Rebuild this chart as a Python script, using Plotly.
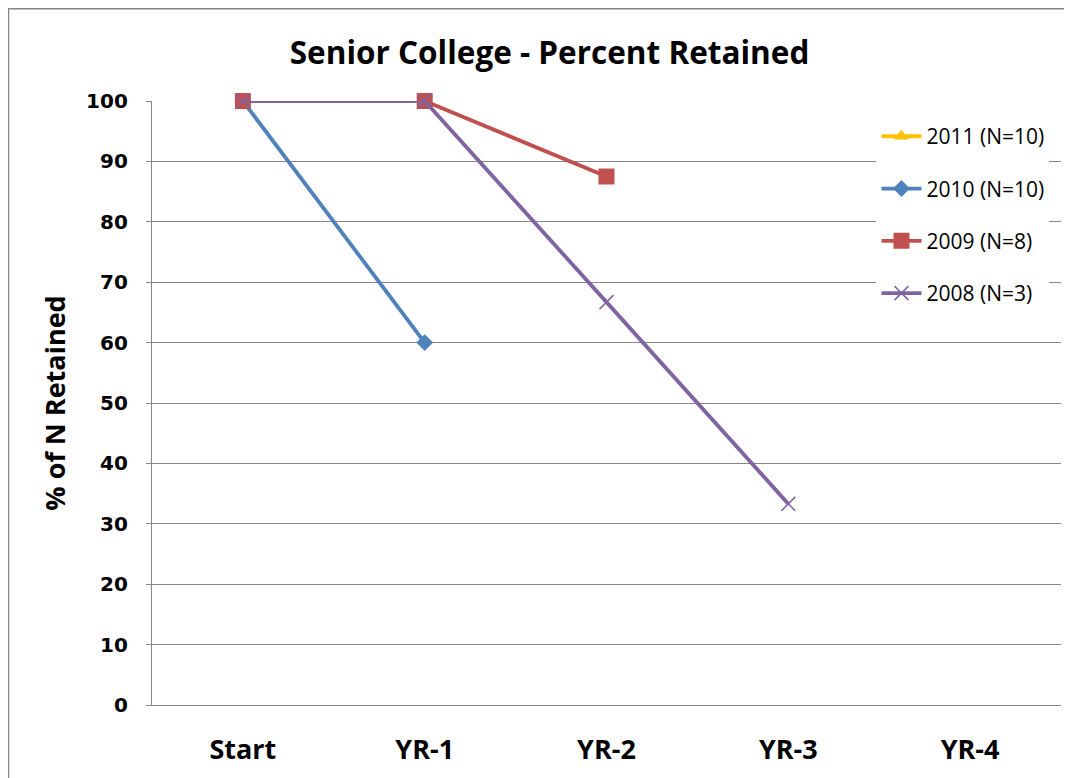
import plotly.graph_objects as go

categories = ["Start", "YR-1", "YR-2", "YR-3", "YR-4"]
series_names = ["2011 (N=10)", "2010 (N=10)", "2009 (N=8)", "2008 (N=3)"]
vals_2011 = [100]
vals_2010 = [100, 60]
vals_2009 = [100, 100, 87.5]
vals_2008 = [100, 100, 66.7, 33.3]
y_ticks = [0, 10, 20, 30, 40, 50, 60, 70, 80, 90, 100]

colors = ["#FFC000", "#4F81BD", "#C0504D", "#8064A2"]
symbols = ["triangle-up", "diamond", "square", "x-thin"]
sizes = [13, 13, 16, 14]
all_vals = [vals_2011, vals_2010, vals_2009, vals_2008]

fig = go.Figure()
for name, vals, c, s, sz in zip(series_names, all_vals, colors, symbols, sizes):
    marker = dict(symbol=s, size=sz, color=c)
    if s == "x-thin":
        marker["line"] = dict(color=c, width=1.5)
    fig.add_trace(go.Scatter(
        x=categories[:len(vals)], y=vals, name=name, mode="lines+markers",
        line=dict(color=c, width=3.8), marker=marker, cliponaxis=False,
        legendgroup=name,
    ))

fig.update_layout(
    width=1064, height=770,
    margin=dict(l=144, r=11, t=93, b=71),
    paper_bgcolor="white", plot_bgcolor="white",
    title=dict(text="<b>Senior College - Percent Retained</b>", x=0.509, xanchor="center",
               y=0.9416, yanchor="middle",
               font=dict(family="Open Sans", size=31.5, color="black")),
    xaxis=dict(categoryorder="array", categoryarray=categories, range=[-0.5, 4.5],
               showline=True, linecolor="#868686", linewidth=1.3, showgrid=False,
               ticks="", ticklabelstandoff=20,
               tickfont=dict(family="Open Sans", size=27, color="black", weight="bold")),
    yaxis=dict(range=[0, 100], tickvals=y_ticks, showline=True, linecolor="#868686",
               linewidth=1.3, showgrid=True, gridcolor="#868686", gridwidth=1,
               ticks="outside", ticklen=5, tickcolor="#868686", ticklabelstandoff=14,
               tickfont=dict(family="DejaVu Sans", size=20, color="black", weight="bold"),
               title=dict(text="<b>% of N Retained</b>", standoff=12,
                          font=dict(family="Open Sans", size=27, color="black"))),
    legend=dict(x=0.797, y=0.975, xanchor="left", yanchor="top", bgcolor="white",
                font=dict(family="Open Sans", size=21, color="black"),
                tracegroupgap=22, itemwidth=40),
    showlegend=True,
    shapes=[dict(type="rect", xref="paper", yref="paper", x0=-0.1579, x1=1.2, y0=-0.3, y1=1.1526,
                 line=dict(color="#868686", width=1.5), fillcolor="rgba(0,0,0,0)", layer="below")],
)
fig.write_html("out.html")
